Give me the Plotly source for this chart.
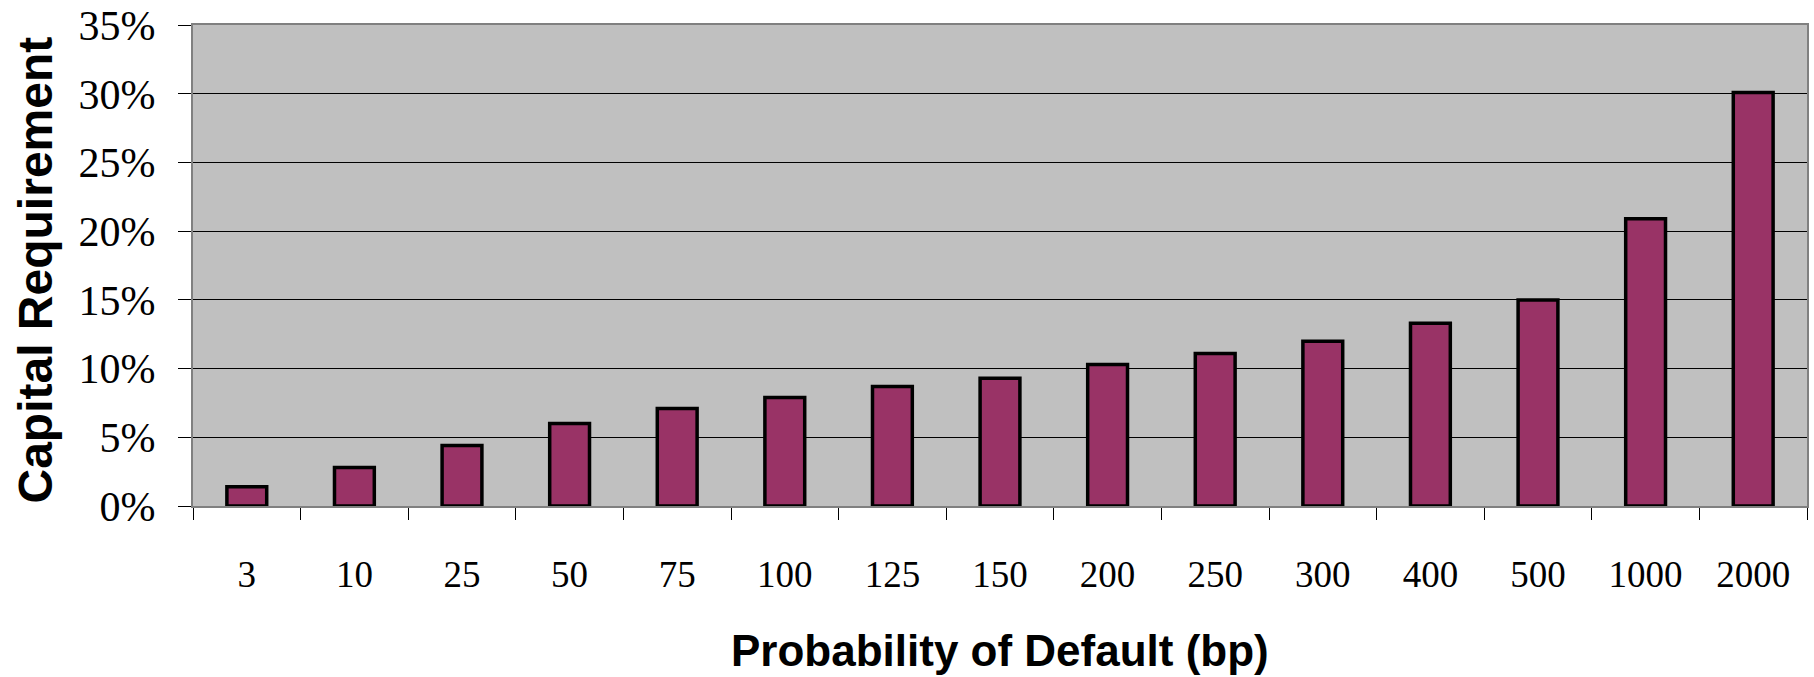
import plotly.graph_objects as go

categories = ["3", "10", "25", "50", "75", "100", "125", "150", "200", "250",
              "300", "400", "500", "1000", "2000"]
capital_req = [0.014, 0.028, 0.044, 0.060, 0.071, 0.079, 0.087, 0.093, 0.103,
               0.111, 0.120, 0.133, 0.150, 0.209, 0.301]
y_ticks = [0, 0.05, 0.10, 0.15, 0.20, 0.25, 0.30, 0.35]
y_tick_text = ["0%", "5%", "10%", "15%", "20%", "25%", "30%", "35%"]

fig = go.Figure()
fig.add_trace(go.Bar(
    x=categories, y=capital_req,
    marker=dict(color="#993366", line=dict(color="black", width=3.5)),
    width=0.37,
))

fig.update_layout(
    width=1814, height=677,
    margin=dict(l=193, r=7, t=25, b=171, autoexpand=False),
    paper_bgcolor="white",
    plot_bgcolor="#C0C0C0",
    showlegend=False,
    xaxis=dict(
        type="category",
        tickson="boundaries",
        ticks="outside", ticklen=12, tickwidth=1, tickcolor="black",
        tickfont=dict(family="Liberation Serif", size=37, color="black"),
        ticklabelstandoff=35,
        automargin=False,
        showline=True, linecolor="#808080", linewidth=2, mirror=True,
        showgrid=False,
    ),
    yaxis=dict(
        range=[0, 0.3501],
        tickvals=y_ticks, ticktext=y_tick_text,
        ticks="outside", ticklen=13, tickwidth=1, tickcolor="black",
        tickfont=dict(family="Liberation Serif", size=42, color="black"),
        ticklabelstandoff=14,
        ticklabeloverflow="allow",
        automargin=False,
        showline=True, linecolor="#808080", linewidth=2, mirror=True,
        showgrid=True, gridcolor="black", gridwidth=1,
        zeroline=False,
    ),
    annotations=[
        dict(text="<b>Probability of Default (bp)</b>", xref="paper", yref="paper",
             x=0.5, y=0, xanchor="center", yanchor="middle", yshift=-144,
             showarrow=False,
             font=dict(family="Liberation Sans", size=44, color="black")),
        dict(text="<b>Capital Requirement</b>", xref="paper", yref="paper",
             x=0, y=0.5, xanchor="center", yanchor="middle", xshift=-158, yshift=-5,
             textangle=-90, showarrow=False,
             font=dict(family="Liberation Sans", size=48, color="black")),
    ],
)

fig.write_html("out.html")
